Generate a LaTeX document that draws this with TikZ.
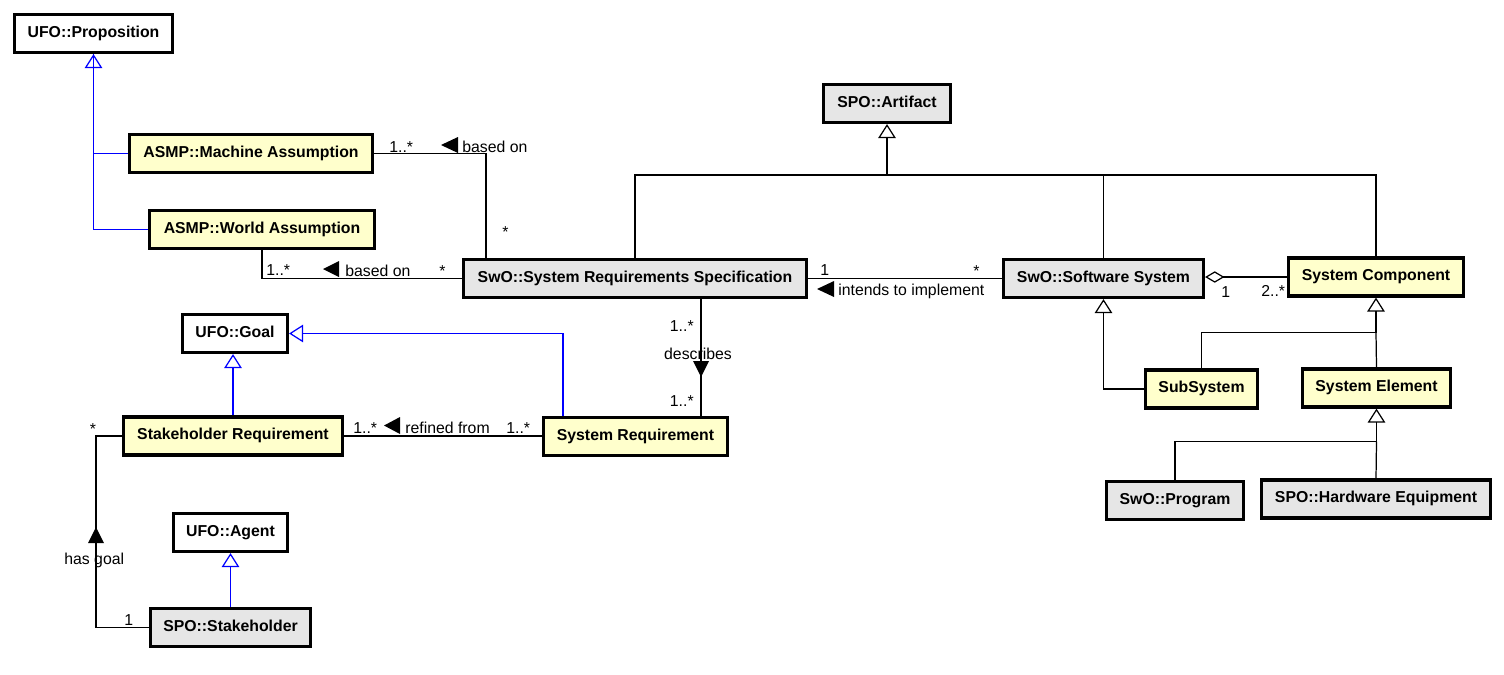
\documentclass[tikz,border=0pt]{standalone}
\usepackage{fontspec}
\setmainfont{Liberation Sans}
\usetikzlibrary{arrows.meta}
\definecolor{gelb}{RGB}{255,255,204}
\definecolor{grau}{RGB}{230,230,230}
\definecolor{blau}{RGB}{0,0,255}
\tikzset{
  klasse/.style={draw,line width=1.8pt,minimum height=0.76cm,inner sep=0pt,
    text height=0.75em,text depth=0.3em,
    font=\fontsize{9}{11}\selectfont\bfseries},
  eigen/.style={klasse,fill=gelb},
  fremd/.style={klasse,fill=grau},
  ufo/.style={klasse,fill=white},
  beschr/.style={font=\fontsize{9}{11}\selectfont,inner sep=0pt},
  linie/.style={line width=0.7pt},
  isa/.style={linie,-{Triangle[open,length=8pt,width=10pt]}},
  agg/.style={linie,-{Diamond[open,length=11pt,width=6.5pt]}},
}
\begin{document}
\begin{tikzpicture}[x=0.02cm,y=-0.02cm]
  \useasboundingbox (0,0) rectangle (1504,674);
  % Klassen links
  \node[ufo,minimum width=3.16cm] (prop) at (93.5,33.5) {UFO::Proposition};
  \node[eigen,minimum width=4.86cm] (mach) at (251,153.5) {ASMP::Machine Assumption};
  \node[eigen,minimum width=4.5cm] (world) at (262,229.5) {ASMP::World Assumption};
  \node[ufo,minimum width=2.1cm] (goal) at (235,333.5) {UFO::Goal};
  \node[eigen,minimum width=4.38cm] (stakreq) at (233,436) {Stakeholder Requirement};
  \node[ufo,minimum width=2.28cm] (agent) at (230.5,532.5) {UFO::Agent};
  \node[fremd,minimum width=3.2cm] (stakeholder) at (230.5,627.5) {SPO::Stakeholder};
  % Klassen Mitte
  \node[fremd,minimum width=2.54cm] (artifact) at (887,103.5) {SPO::Artifact};
  \node[fremd,minimum width=6.86cm] (srs) at (635,278.5) {SwO::System Requirements Specification};
  \node[eigen,minimum width=3.68cm] (sysreq) at (635.5,436.5) {System Requirement};
  % Klassen rechts
  \node[fremd,minimum width=4cm] (softsys) at (1103.5,278.5) {SwO::Software System};
  \node[eigen,minimum width=3.5cm] (syscomp) at (1376,277) {System Component};
  \node[eigen,minimum width=2.24cm] (subsys) at (1201.5,389) {SubSystem};
  \node[eigen,minimum width=2.96cm] (syselem) at (1376.5,388) {System Element};
  \node[fremd,minimum width=2.74cm] (program) at (1175,500.5) {SwO::Program};
  \node[fremd,minimum width=4.58cm] (hardware) at (1376,499) {SPO::Hardware Equipment};

  % Generalisierungen (blau)
  \draw[isa,blau] (mach.west) -| (prop.south);
  \draw[linie,blau] (world.west) -| (prop.south);
  \draw[isa,blau] (stakreq.north) -- (stakreq.north |- goal.south);
  \draw[isa,blau] ([xshift=-1.45cm]sysreq.north) |- (goal.east);
  \draw[isa,blau] (stakeholder.north) -- (agent.south);

  % Generalisierungen (schwarz)
  \coordinate (bus) at (887,175);
  \draw[isa] (bus) -- (artifact.south);
  \foreach \k in {srs,softsys,syscomp}
    \draw[linie] (\k.north) |- (bus);
  \draw[isa] (subsys.west) -| (softsys.south);
  \coordinate (compbus) at ([yshift=-0.7cm]syscomp.south);
  \draw[isa] (compbus) -- (syscomp.south);
  \draw[linie] (subsys.north) |- (compbus);
  \draw[linie] (syselem.north) -- (compbus);
  \coordinate (elembus) at ([yshift=-0.66cm]syselem.south);
  \draw[isa] (elembus) -- (syselem.south);
  \draw[linie] (program.north) |- (elembus);
  \draw[linie] (hardware.north) -- (elembus);

  % Assoziationen
  \draw[linie] (mach.east) -| ([xshift=0.48cm]srs.north west);
  \draw[linie] (world.south) |- (srs.west);
  \draw[linie] (srs.east) -- (softsys.west);
  \draw[agg] (syscomp.west) -- (syscomp.west -| softsys.east);
  \draw[linie] ([xshift=1.32cm]srs.south) -- ([xshift=1.32cm]srs.south |- sysreq.north);
  \draw[linie] (stakreq.east) -- (stakreq.east -| sysreq.west);
  \draw[linie] (stakeholder.west) -| ([xshift=-0.52cm]stakreq.west) -- (stakreq.west);

  % Leserichtung
  \fill (441,145) -- (458,137) -- (458,153) -- cycle;
  \fill (323,269) -- (339,261) -- (339,277) -- cycle;
  \fill (817,289) -- (834,281) -- (834,297) -- cycle;
  \fill (384,425.5) -- (400,417) -- (400,434) -- cycle;
  \fill (701,377) -- (693,361) -- (709,361) -- cycle;
  \fill (96,527) -- (88,543) -- (104,543) -- cycle;

  % Beschriftung
  \node[beschr,anchor=base west] (m1) at (389,152) {1..*};
  \node[beschr,anchor=base west] (m2) at (462,152) {based on};
  \node[beschr,anchor=base west] (m3) at (502,237) {*};
  \node[beschr,anchor=base west] (w1) at (266,275) {1..*};
  \node[beschr,anchor=base west] (w2) at (345,276) {based on};
  \node[beschr,anchor=base west] (w3) at (439,276) {*};
  \node[beschr,anchor=base west] (i1) at (820,275) {1};
  \node[beschr,anchor=base west] (i2) at (973,276) {*};
  \node[beschr,anchor=base west] (i3) at (838,295) {intends to implement};
  \node[beschr,anchor=base west] (a1) at (1221,297) {1};
  \node[beschr,anchor=base west] (a2) at (1261,296) {2..*};
  \node[beschr,anchor=base east] (d1) at (694,331) {1..*};
  \node[beschr,anchor=base] (d2) at (698,359) {describes};
  \node[beschr,anchor=base east] (d3) at (694,406) {1..*};
  \node[beschr,anchor=base west] (r1) at (353,433) {1..*};
  \node[beschr,anchor=base west] (r2) at (405,433) {refined from};
  \node[beschr,anchor=base west] (r3) at (506,433) {1..*};
  \node[beschr,anchor=base] (h1) at (93,434) {*};
  \node[beschr,anchor=base west] (h2) at (64,564) {has goal};
  \node[beschr,anchor=base west] (h3) at (124,625) {1};
\end{tikzpicture}
\end{document}
